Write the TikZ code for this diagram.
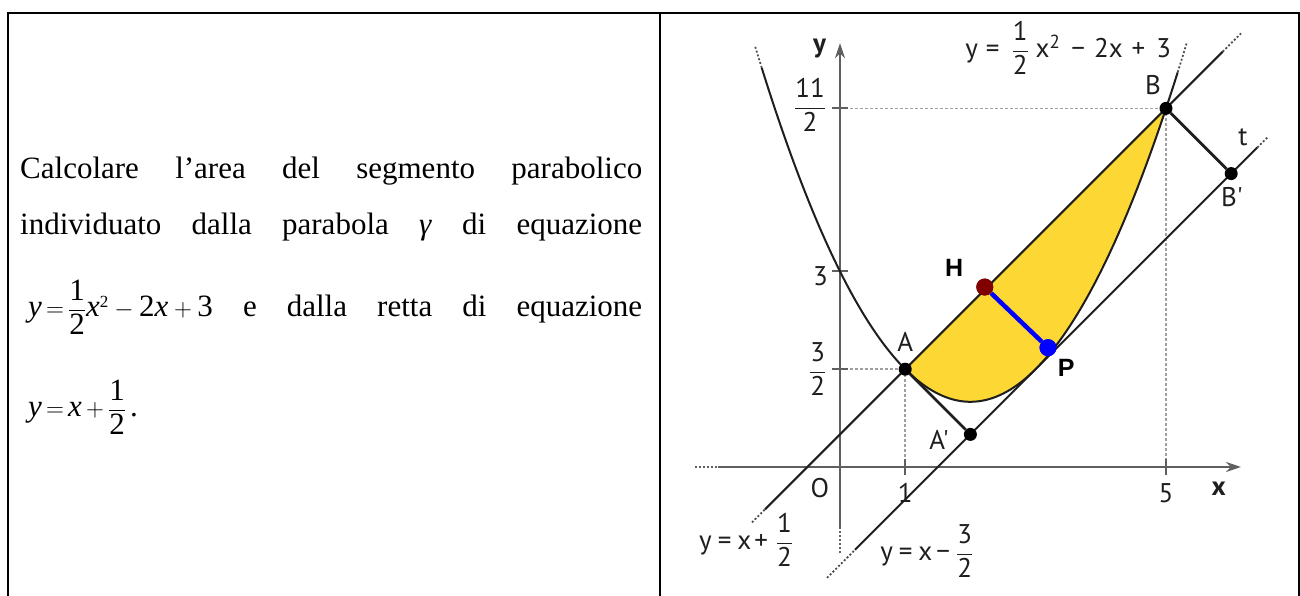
\documentclass[tikz,border=0pt]{standalone}
\usepackage{amsmath}
\usepackage{fontspec}
\setmainfont{Liberation Serif}
\newfontfamily\graphfont{PT Sans}
\newfontfamily\markfont{Liberation Sans}
\usetikzlibrary{arrows.meta,positioning}

\definecolor{segyellow}{RGB}{253,216,53}
\definecolor{hred}{RGB}{128,0,0}
\definecolor{axisgray}{RGB}{95,95,95}
\definecolor{inkgray}{RGB}{30,30,30}

\newcommand{\lblfrac}[2]{\ensuremath{\dfrac{\text{#1}}{\text{#2}}}}
\newcommand{\tn}[1]{\text{#1}}
\newcommand{\sqtwo}{\text{\fontsize{17}{17}\selectfont 2}}

\begin{document}
\begin{tikzpicture}[x=1pt, y=1pt,
  frame/.style={line width=1.6pt, black},
  txt/.style={font=\fontsize{31}{36}\selectfont, inner sep=0pt, anchor=base west},
  lbl/.style={font=\graphfont\fontsize{27}{32}\selectfont, inner sep=1pt, text=inkgray},
  ptlabel/.style={font=\markfont\bfseries\fontsize{25}{29}\selectfont, inner sep=1pt},
  axis/.style={axisgray, line width=1.9pt},
  curve/.style={inkgray, line width=2pt},
  ext/.style={inkgray!80, line width=1.7pt, dash pattern=on 2pt off 2pt},
  guide/.style={gray!75, line width=1.6pt, dash pattern=on 2.5pt off 2.5pt},
  dot/.style={circle, fill=black, inner sep=0pt, minimum size=13pt}]

\useasboundingbox (0,0) rectangle (1300,596);

% Table frame
\draw[frame] (8,0) -- (8,583) -- (1299,583) -- (1299,0);
\draw[frame] (660,583) -- (660,0);

% === LEFT CELL: the exercise ===
\node[txt] (line1) at (20,417) {\makebox[622pt][s]{Calcolare\hfill l’area\hfill del\hfill segmento\hfill parabolico}};
\node[txt] (line2) at (20,361) {\makebox[622pt][s]{individuato\hfill dalla\hfill parabola\hfill \textit{γ}\hfill di\hfill equazione}};
\node[txt] (line3) at (28,279) {\makebox[614pt][s]{\mbox{$\textit{y}\,{=}\,\dfrac{\tn{1}}{\tn{2}}\textit{x}^{\sqtwo}-\tn{2}\textit{x}+\tn{3}$}\hfill e\hfill dalla\hfill retta\hfill di\hfill equazione}};
\node[txt] (line4) at (28,179) {$\textit{y}\,{=}\,\textit{x}\,{+}\,\dfrac{\tn{1}}{\tn{2}}\,$.};

% === RIGHT CELL: the graph ===
\begin{scope}[shift={(840,129)}, x=65.2pt, y=65.2pt]

% parabolic segment
\fill[segyellow] (1,1.5) -- (5,5.5)
  -- plot[domain=5:1, samples=60, smooth] (\x,{0.5*\x*\x-2*\x+3}) -- cycle;

% guide lines
\draw[guide] (0,5.5) -- (5,5.5);
\draw[guide] (5,5.5) -- (5,0);
\draw[guide] (0,1.5) -- (1,1.5);
\draw[guide] (1,1.5) -- (1,0);

% axes
\draw[axis, -{Stealth[length=15pt, width=10pt]}] (-1.87,0) -- (6.15,0);
\draw[axis, -{Stealth[length=15pt, width=10pt]}] (0,-0.92) -- (0,6.5);
\draw[ext, axisgray] (-2.22,0) -- (-1.87,0);
\draw[ext, axisgray] (0,-1.32) -- (0,-0.92);
\foreach \t in {1,5} {\draw[axis] (\t,-0.12) -- (\t,0.12);}
\foreach \t in {1.5,3,5.5} {\draw[axis] (-0.12,\t) -- (0.12,\t);}

% line y = x + 1/2
\draw[curve] (-1.15,-0.65) -- (5.87,6.37);
\draw[ext] (-1.35,-0.85) -- (-1.15,-0.65);
\draw[ext] (5.87,6.37) -- (6.15,6.65);

% tangent t: y = x - 3/2
\draw[curve] (0.23,-1.27) -- (6.4,4.9);
\draw[ext] (-0.2,-1.7) -- (0.23,-1.27);
\draw[ext] (6.4,4.9) -- (6.57,5.07);

% parabola
\draw[curve] plot[domain=-1.2:5.18, samples=120, smooth] (\x,{0.5*\x*\x-2*\x+3});
\draw[ext] plot[domain=-1.3:-1.2, samples=5] (\x,{0.5*\x*\x-2*\x+3});
\draw[ext] plot[domain=5.18:5.32, samples=5] (\x,{0.5*\x*\x-2*\x+3});

% points and projections
\node[dot] (A) at (1,1.5) {};
\node[dot] (B) at (5,5.5) {};
\node[dot] (Ap) at (2,0.5) {};
\node[dot] (Bp) at (6,4.5) {};
\draw[inkgray, line width=2.8pt] (A) -- (Ap);
\draw[inkgray, line width=2.8pt] (B) -- (Bp);

% height of the segment
\node[dot, fill=hred, minimum size=17pt] (H) at (2.22,2.76) {};
\node[dot, fill=blue, minimum size=17pt] (P) at (3.19,1.83) {};
\draw[blue, line width=4.5pt] (H) -- (P);
\node[dot, fill=hred, minimum size=17pt] at (H) {};
\node[dot, fill=blue, minimum size=17pt] at (P) {};

% labels
\node[lbl] (ylab) at (-0.31,6.42) {\textbf{y}};
\node[lbl] (xlab) at (5.81,-0.33) {\textbf{x}};
\node[lbl] (Olab) at (-0.31,-0.32) {O};
\node[lbl] (onelab) at (1.0,-0.40) {1};
\node[lbl] (fivelab) at (5.0,-0.40) {5};
\node[lbl] (elevenlab) at (-0.46,5.55) {\lblfrac{11}{2}};
\node[lbl] (threelab) at (-0.30,2.92) {3};
\node[lbl] (halflab) at (-0.34,1.5) {\lblfrac{3}{2}};
\node[lbl] (Alab) at (1.0,1.92) {A};
\node[lbl] (Blab) at (4.80,5.86) {B};
\node[lbl] (Aplab) at (1.52,0.41) {A'};
\node[lbl] (Bplab) at (6.01,4.14) {B'};
\node[lbl] (tlab) at (6.18,5.06) {t};
\node[ptlabel] (Hlab) at (1.75,3.05) {H};
\node[ptlabel] (Plab) at (3.47,1.52) {P};
\node[lbl] (eqpar) at (3.50,6.43) {y\hspace{8pt}=\hspace{12pt}\lblfrac{1}{2}\hspace{7pt}x$^{\text{2}}$\hspace{11pt}−\hspace{9pt}2x\hspace{9pt}+\hspace{11pt}3};
\node[lbl] (eqline) at (-1.44,-1.12) {y\hspace{6pt}=\hspace{6pt}x\hspace{3pt}+\hspace{8pt}\lblfrac{1}{2}};
\node[lbl] (eqtan) at (1.33,-1.29) {y\hspace{6pt}=\hspace{6pt}x\hspace{4pt}−\hspace{6pt}\lblfrac{3}{2}};

\end{scope}

\end{tikzpicture}
\end{document}
